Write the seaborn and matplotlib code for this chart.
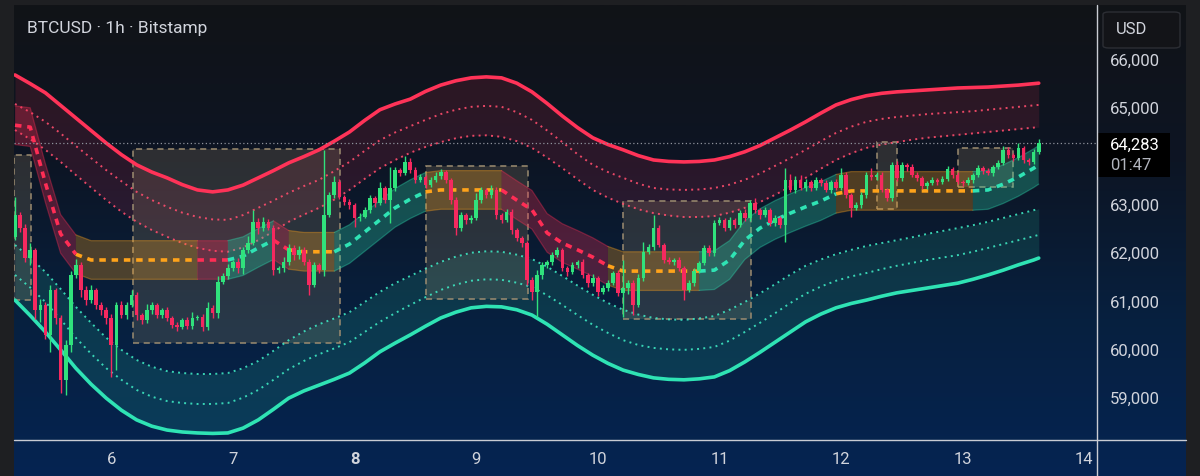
import numpy as np
import pandas as pd
import matplotlib
matplotlib.use("Agg")
import matplotlib.pyplot as plt
import seaborn as sns
from matplotlib.patches import Rectangle, FancyBboxPatch
from matplotlib.lines import Line2D
from matplotlib.colors import LinearSegmentedColormap

# ---------------- data (BTCUSD 1h) ----------------
first_hour = 5          # first candle = day 5, 05:00 (hours counted from day 5 00:00)
first_open = 62340

closes = [
    62790, 62520, 61900, 62070, 60830, 60930, 60310, 61240, 60660, 59380,
    60100, 61550, 61760, 61240, 61030, 61240, 60930, 60830, 60660, 60100,
    60930, 60720, 60930, 61140, 60720, 60620, 60830, 60930, 60720, 60830,
    60660, 60510, 60470, 60620, 60490, 60660, 60680, 60470, 60870, 60760,
    61400, 61530, 61690, 61820, 61690, 62070, 62210, 62650, 62520, 62650,
    62520, 61650, 61690, 61820, 62110, 61960, 62070, 61820, 61340, 61760,
    61650, 62790, 63210, 63470, 63160, 63060, 63000, 62730, 62760, 62900,
    63140, 63040, 63350, 63100, 63350, 63720, 63660, 63890, 63720, 63520,
    63580, 63410, 63520, 63600, 63680, 63520, 63100, 62520, 62790, 62690,
    62730, 63100, 63310, 63210, 63310, 62790, 62690, 62850, 62480, 62320,
    62210, 61450, 61200, 61550, 61760, 61820, 61960, 62070, 61690, 61610,
    61760, 61820, 61550, 61380, 61490, 61200, 61280, 61380, 61590, 61180,
    61280, 61380, 60930, 61490, 62030, 62130, 62520, 62170, 61860, 61820,
    61860, 61690, 61240, 61380, 61630, 61800, 62110, 62000, 62630, 62690,
    62520, 62690, 62580, 62830, 62730, 63040, 62900, 62790, 62900, 62630,
    62730, 62580, 63520, 63310, 63520, 63350, 63470, 63350, 63520, 63450,
    63310, 63470, 63350, 63620, 63210, 62940, 63000, 63210, 63620, 63580,
    63620, 63310, 63140, 63830, 63560, 63830, 63790, 63620, 63560, 63390,
    63450, 63520, 63470, 63540, 63740, 63620, 63470, 63450, 63520, 63620,
    63760, 63700, 63660, 63790, 63870, 64140, 64030, 63970, 64180, 63930,
    63890, 64100, 64283,
]
wick_up = [
    370, 60, 80, 150, 40, 120, 60, 100, 40, 60,
    100, 80, 120, 60, 80, 100, 40, 60, 50, 80,
    60, 80, 60, 100, 60, 40, 120, 60, 50, 40,
    50, 40, 60, 40, 60, 130, 40, 60, 120, 60,
    120, 60, 80, 50, 80, 60, 140, 240, 80, 100,
    60, 60, 40, 100, 80, 60, 80, 60, 60, 50,
    40, 1350, 60, 120, 60, 40, 60, 40, 80, 60,
    60, 40, 120, 40, 430, 60, 40, 120, 80, 60,
    60, 40, 60, 80, 60, 40, 40, 60, 60, 40,
    60, 140, 60, 40, 100, 60, 40, 60, 60, 40,
    40, 40, 60, 100, 60, 40, 60, 60, 40, 40,
    60, 40, 60, 40, 80, 40, 60, 60, 40, 60,
    580, 60, 60, 80, 200, 60, 270, 60, 40, 60,
    40, 60, 40, 60, 60, 40, 60, 60, 60, 60,
    40, 60, 40, 60, 80, 60, 100, 40, 60, 40,
    60, 40, 240, 120, 80, 100, 60, 40, 60, 40,
    60, 40, 60, 150, 60, 40, 60, 60, 60, 150,
    60, 60, 40, 60, 80, 60, 40, 60, 60, 40,
    40, 60, 40, 60, 60, 40, 60, 40, 60, 40,
    60, 40, 60, 40, 60, 80, 60, 40, 100, 40,
    40, 60, 80,
]
wick_dn = [
    60, 80, 90, 150, 200, 260, 80, 350, 120, 270,
    310, 150, 60, 140, 100, 60, 80, 100, 120, 660,
    515, 60, 80, 40, 100, 80, 60, 80, 60, 60,
    70, 60, 80, 40, 60, 60, 50, 80, 60, 100,
    100, 40, 60, 60, 100, 120, 60, 40, 120, 60,
    40, 100, 60, 80, 60, 100, 80, 60, 205, 40,
    60, 120, 40, 60, 40, 60, 80, 180, 60, 40,
    60, 80, 40, 60, 470, 60, 60, 40, 60, 60,
    40, 60, 40, 40, 60, 60, 80, 140, 60, 80,
    60, 40, 60, 60, 60, 80, 60, 40, 80, 60,
    80, 100, 170, 520, 80, 60, 60, 40, 60, 80,
    40, 60, 60, 80, 60, 80, 40, 60, 40, 60,
    500, 120, 200, 40, 60, 40, 60, 40, 60, 40,
    60, 60, 200, 40, 60, 40, 40, 60, 60, 40,
    60, 40, 60, 40, 60, 60, 60, 80, 40, 60,
    60, 60, 350, 40, 60, 40, 60, 60, 40, 60,
    40, 60, 40, 40, 60, 180, 40, 60, 60, 60,
    60, 40, 60, 60, 60, 60, 80, 40, 60, 60,
    60, 40, 60, 40, 40, 60, 40, 60, 40, 60,
    40, 60, 40, 60, 40, 40, 60, 60, 40, 60,
    60, 40, 40,
]

# indicator lines, sampled every 3 candles (candle index)
sample_idx = list(range(0, 202, 3)) + [202]

red_outer = [65690, 65510, 65320, 65060, 64800, 64540, 64280, 64040, 63830, 63680,
             63560, 63420, 63310, 63270, 63310, 63410, 63560, 63710, 63870, 64000,
             64140, 64320, 64510, 64750, 64970, 65090, 65190, 65350, 65480, 65570,
             65630, 65650, 65630, 65520, 65340, 65100, 64840, 64600, 64390, 64250,
             64140, 64020, 63930, 63900, 63890, 63900, 63930, 64000, 64100, 64230,
             64390, 64550, 64720, 64900, 65070, 65180, 65260, 65310, 65340, 65360,
             65380, 65400, 65420, 65430, 65440, 65460, 65480, 65510, 65520]
red_mid = [65090, 64920, 64720, 64480, 64220, 63970, 63720, 63490, 63270, 63100,
           62960, 62840, 62750, 62700, 62690, 62790, 62940, 63090, 63250, 63390,
           63520, 63700, 63890, 64120, 64340, 64500, 64630, 64760, 64880, 64970,
           65030, 65050, 65030, 64920, 64760, 64540, 64300, 64050, 63830, 63680,
           63560, 63440, 63350, 63320, 63310, 63320, 63350, 63420, 63520, 63650,
           63810, 63970, 64140, 64320, 64490, 64620, 64720, 64780, 64820, 64850,
           64880, 64900, 64920, 64940, 64970, 65000, 65030, 65060, 65070]
red_inner = [64550, 64360, 64140, 63890, 63620, 63360, 63100, 62860, 62650, 62480,
             62340, 62210, 62110, 62050, 62030, 62120, 62270, 62450, 62650, 62800,
             62940, 63110, 63310, 63540, 63760, 63930, 64080, 64200, 64300, 64380,
             64430, 64440, 64410, 64320, 64180, 63980, 63760, 63530, 63310, 63150,
             63020, 62910, 62830, 62780, 62750, 62750, 62770, 62840, 62940, 63060,
             63210, 63380, 63560, 63750, 63930, 64070, 64180, 64250, 64300, 64350,
             64390, 64420, 64450, 64480, 64510, 64540, 64570, 64600, 64610]
teal_outer = [61030, 60710, 60370, 60000, 59620, 59290, 59000, 58750, 58550, 58420,
              58340, 58300, 58280, 58270, 58280, 58380, 58550, 58770, 59000, 59150,
              59270, 59390, 59520, 59730, 59960, 60140, 60310, 60490, 60660, 60780,
              60870, 60900, 60890, 60830, 60720, 60530, 60310, 60090, 59890, 59720,
              59580, 59490, 59420, 59390, 59380, 59400, 59440, 59570, 59750, 59950,
              60160, 60370, 60580, 60740, 60870, 60960, 61030, 61110, 61180, 61230,
              61280, 61330, 61380, 61460, 61550, 61650, 61760, 61860, 61900]
teal_mid = [61550, 61290, 60990, 60630, 60250, 59920, 59620, 59380, 59170, 59030,
            58940, 58900, 58880, 58880, 58900, 59010, 59170, 59380, 59600, 59770,
            59910, 60030, 60160, 60370, 60580, 60760, 60930, 61090, 61240, 61350,
            61430, 61460, 61450, 61390, 61300, 61130, 60930, 60720, 60520, 60350,
            60200, 60100, 60040, 60010, 60000, 60020, 60060, 60190, 60370, 60560,
            60760, 60970, 61160, 61310, 61430, 61520, 61590, 61670, 61740, 61800,
            61860, 61910, 61960, 62030, 62110, 62190, 62270, 62350, 62380]
teal_inner = [62170, 61910, 61610, 61260, 60890, 60560, 60250, 60000, 59790, 59650,
              59560, 59520, 59500, 59500, 59520, 59620, 59770, 59980, 60200, 60380,
              60530, 60650, 60780, 60990, 61200, 61380, 61530, 61680, 61820, 61930,
              62010, 62040, 62030, 61970, 61880, 61720, 61530, 61330, 61140, 60970,
              60830, 60730, 60660, 60630, 60620, 60650, 60700, 60830, 60990, 61170,
              61360, 61560, 61740, 61870, 61980, 62070, 62150, 62210, 62270, 62330,
              62400, 62460, 62520, 62580, 62650, 62730, 62810, 62890, 62920]

# trend line; F = flat (orange), D = down (red), U = up (teal)
trend_mid = [64650, 64610, 63450, 62400, 61980, 61860, 61860, 61860, 61860, 61860,
             61860, 61860, 61860, 61860, 61860, 61940, 62110, 62270, 62070, 62030,
             62030, 62030, 62190, 62440, 62690, 62940, 63120, 63270, 63310, 63310,
             63310, 63310, 63310, 63100, 62900, 62420, 62210, 62070, 61920, 61740,
             61630, 61630, 61630, 61630, 61630, 61630, 61650, 61860, 62270, 62520,
             62690, 62830, 62960, 63080, 63230, 63290, 63290, 63290, 63290, 63290,
             63290, 63290, 63290, 63290, 63310, 63430, 63580, 63760, 63830]
trend_state = list("FDDDDFFFFFFFFDDUUUDFFFUUUUUUFFFFFDDDDDDDFFFFFFUUUUUUUUUFFFFFFFFFUUUUU")
trend_halfwidth = 400

# range boxes: start hour, end hour, low, high
box_start = [4.8, 28.3, 86.1, 125.0, 175.1, 191.1]
box_end = [8.2, 69.1, 106.2, 150.3, 179.1, 202.0]
box_low = [61030, 60140, 61050, 60640, 62920, 63370]
box_high = [64030, 64160, 63810, 63080, 64300, 64180]

last_price = 64283
price_ticks = [59000, 60000, 61000, 62000, 63000, 65000, 66000]
day_ticks = [6, 7, 8, 9, 10, 11, 12, 13, 14]

# ---------------- styling ----------------
sns.set_theme(style="dark", rc={"axes.facecolor": "none", "figure.facecolor": "#1e1f22"})
plt.rcParams['font.family'] = ['Roboto', 'DejaVu Sans']

GREEN = '#30e27c'
RED = '#f5295f'
TEAL = '#2fe3b4'
ORANGE = '#ffa31a'
TXT = '#d1d4dc'

fig = plt.figure(figsize=(12, 4.76), dpi=100)
fig.patch.set_facecolor('#1e1f22')


def fx(px):
    return px / 1200


def fy(py):
    return 1 - py / 476


# gradient background (chart + scales)
bg = fig.add_axes([fx(14), fy(476), fx(1186) - fx(14), fy(5) - fy(476)])
grad = np.linspace(0, 1, 256).reshape(-1, 1)
cmap = LinearSegmentedColormap.from_list('tvbg', ['#111317', '#0d1524', '#07203f', '#052452'])
bg.imshow(grad, aspect='auto', cmap=cmap, extent=[0, 1, 0, 1], origin='upper')
bg.axis('off')

ax = fig.add_axes([fx(14), fy(440), fx(1096) - fx(14), fy(5) - fy(440)])
ax.set_facecolor('none')
ax.set_xlim(4.8, 218.3)
ax.set_ylim(58134, 67138)

# envelope fills
s_h = np.array(sample_idx) + first_hour
ax.fill_between(s_h, red_outer, red_inner, color='#ff2d55', alpha=0.12, lw=0, zorder=1)
ax.fill_between(s_h, teal_outer, teal_inner, color=TEAL, alpha=0.13, lw=0, zorder=1)

# range boxes
for x0, x1, lo, hi in zip(box_start, box_end, box_low, box_high):
    ax.add_patch(Rectangle((x0, lo), x1 - x0, hi - lo, facecolor='#a08e6a', alpha=0.22,
                           edgecolor='none', zorder=1.5))
    ax.add_patch(Rectangle((x0, lo), x1 - x0, hi - lo, facecolor='none',
                           edgecolor='#9c8c70', lw=1.1, ls=(0, (4, 3)), zorder=1.6))

# envelope lines
env_df = pd.DataFrame({'hour': s_h, 'red': red_outer, 'teal': teal_outer})
sns.lineplot(data=env_df, x='hour', y='red', ax=ax, color='#ff3358', lw=2.6, sort=False, zorder=2)
sns.lineplot(data=env_df, x='hour', y='teal', ax=ax, color=TEAL, lw=2.6, sort=False, zorder=2)
for series, col in [(red_mid, '#ff4d6d'), (red_inner, '#ff4d6d'),
                    (teal_mid, '#3ee8c2'), (teal_inner, '#3ee8c2')]:
    ax.plot(s_h, series, color=col, lw=1.4, ls=(0, (1.0, 2.2)), alpha=0.9, zorder=2)

# trend band and dashed trend line
t_mid = np.array(trend_mid, dtype=float)
state = np.array(trend_state)
band_cols = {'F': ORANGE, 'D': '#ff2d55', 'U': TEAL}
for key, col in band_cols.items():
    seg = state == key
    show = seg | np.r_[seg[1:], False]
    ax.fill_between(s_h, t_mid - trend_halfwidth, t_mid + trend_halfwidth, where=show,
                    color=col, alpha=0.28, lw=0, zorder=2.5)
    for edge in (t_mid - trend_halfwidth, t_mid + trend_halfwidth):
        ax.plot(s_h, np.where(show, edge, np.nan), color=col, lw=0.9, alpha=0.35, zorder=2.6)
    ax.plot(s_h, np.where(show, t_mid, np.nan), color=col, lw=2.6,
            ls=(0, (1.8, 1.6)), zorder=3)

# candles
opens = [first_open] + closes[:-1]
for i, (o, c) in enumerate(zip(opens, closes)):
    h = first_hour + i
    col = GREEN if c >= o else RED
    hi = max(o, c) + wick_up[i]
    lo = min(o, c) - wick_dn[i]
    ax.vlines(h, lo, hi, color=col, lw=1.0, zorder=4)
    ax.bar(h, max(abs(c - o), 15), bottom=min(o, c), width=0.72, color=col,
           lw=0, zorder=4.5)

# last price line
ax.axhline(last_price, color='#8e939c', lw=0.9, ls=(0, (1, 2)), zorder=3.5)

# axes / ticks
for s in ax.spines.values():
    s.set_visible(False)
ax.grid(False)
ax.yaxis.tick_right()
ax.set_yticks(price_ticks)
ax.set_yticklabels([f"{p:,}" for p in price_ticks])
ax.set_xticks([(d - 5) * 24 for d in day_ticks])
ax.set_xticklabels([str(d) for d in day_ticks])
ax.tick_params(axis='y', length=0, pad=10, labelsize=12, labelcolor=TXT)
ax.tick_params(axis='x', length=0, pad=9, labelsize=12, labelcolor=TXT)
ax.get_xticklabels()[2].set_fontweight('bold')
ax.set_xlabel('')
ax.set_ylabel('')

# separators
fig.add_artist(Line2D([fx(1096.5), fx(1096.5)], [fy(5), fy(476)], color='#c9ccd3', lw=1.0))
fig.add_artist(Line2D([fx(14), fx(1186)], [fy(440), fy(440)], color='#c9ccd3', lw=1.0))

# title
fig.text(fx(27), fy(28), 'BTCUSD · 1h · Bitstamp', ha='left', va='center',
         fontsize=12.5, color=TXT)

# USD button
fig.add_artist(FancyBboxPatch((fx(1103), fy(48)), fx(77), 36 / 476,
                              boxstyle='round,pad=0,rounding_size=0.005',
                              transform=fig.transFigure, facecolor='#131418',
                              edgecolor='#2c2e34', lw=1.0))
fig.text(fx(1116), fy(30), 'USD', ha='left', va='center', fontsize=12, color=TXT)

# last price label
fig.add_artist(Rectangle((fx(1097), fy(177)), fx(73), 44 / 476, transform=fig.transFigure,
                         facecolor='#000000', edgecolor='none'))
fig.text(fx(1110), fy(145), f"{last_price:,}", ha='left', va='center', fontsize=12, color='#ffffff')
fig.text(fx(1110), fy(165), '01:47', ha='left', va='center', fontsize=12, color='#b2b5be')

fig.savefig('out.png', dpi=100, facecolor=fig.get_facecolor())
